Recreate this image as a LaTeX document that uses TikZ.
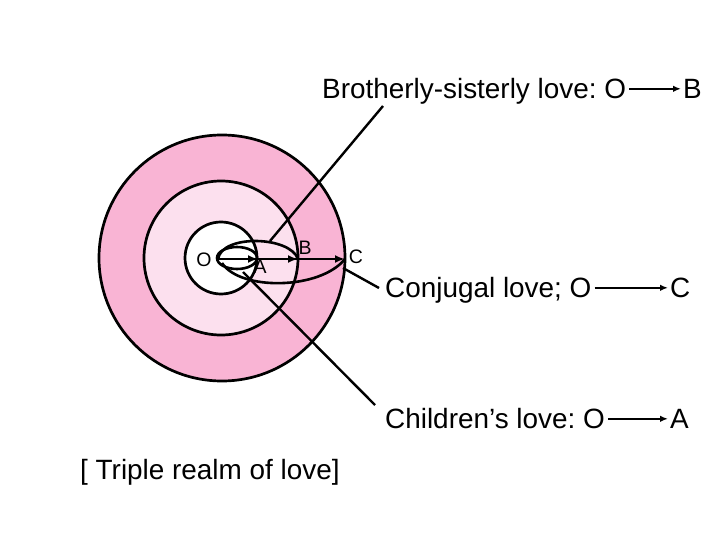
\documentclass[tikz,border=0pt]{standalone}
\usepackage{fontspec}
\setmainfont{Liberation Sans}
\usetikzlibrary{arrows.meta}
\definecolor{ringout}{RGB}{249,180,212}
\definecolor{ringmid}{RGB}{252,224,238}
\frenchspacing
\begin{document}
\frenchspacing
\begin{tikzpicture}[x=1pt,y=-1pt,
  ring/.style={circle,draw=black,line width=2.7pt,inner sep=0pt},
  loopline/.style={line width=2.6pt},
  pointer/.style={line width=2.4pt},
  harrow/.style={line width=2.6pt,-{Latex[length=10pt,width=8pt]}},
  rarrow/.style={line width=1.8pt,-{Latex[length=8pt,width=6.5pt]}},
  big/.style={font=\fontsize{27.9}{33}\selectfont,inner sep=0pt,text height=20pt,text depth=0pt,anchor=south west},
  small/.style={font=\fontsize{19.5}{22}\selectfont,inner sep=0pt}]
\useasboundingbox (0,0) rectangle (720,540);
\fill[white] (0,0) rectangle (720,540);
% rings
\node[ring,fill=ringout,minimum size=246pt] (outer) at (222,258) {};
\node[ring,fill=ringmid,minimum size=154pt] (middle) at (221,258) {};
\node[ring,fill=white,minimum size=72pt] (inner) at (221,258) {};
% points
\coordinate (O) at (218,259);
\coordinate (A) at (258,259);
\coordinate (B) at (298,259);
\coordinate (C) at (345,259);
% loops
\draw[loopline] (237,258) ellipse [x radius=20, y radius=11];
\draw[loopline] (O) .. controls (222,234) and (290,236) .. (B);
\draw[loopline] (222,263) .. controls (240,291) and (320,290) .. (C);
% horizontal arrows
\draw[harrow] (O) -- (C);
\draw[harrow] (O) -- (B);
\draw[harrow] (O) -- (A);
% labels at points
\node[small] (lO) at (204,260) {O};
\node[small] (lA) at (260,267) {A};
\node[small] (lB) at (305,248) {B};
\node[small] (lC) at (356,257) {C};
% right text
\node[big] (tB) at (322,99) {Brotherly-sisterly love: O};
\node[big] (rB) at (683,99) {B};
\node[big] (tC) at (385,298) {Conjugal love; O};
\node[big] (rC) at (670,298) {C};
\node[big] (tA) at (385,429) {Children’s love: O};
\node[big] (rA) at (670,429) {A};
\draw[rarrow] ([xshift=3pt]tB.east) -- ([xshift=-2pt]rB.west);
\draw[rarrow] ([xshift=3pt]tC.east) -- ([xshift=-2pt]rC.west);
\draw[rarrow] ([xshift=3pt]tA.east) -- ([xshift=-2pt]rA.west);
% pointer lines
\coordinate (pB) at (383,106);
\coordinate (qB) at (270,241);
\coordinate (pC) at (379,288);
\coordinate (qC) at (343,268);
\coordinate (pA) at (375,405);
\coordinate (qA) at (243,272);
\draw[pointer] (pB) -- (qB);
\draw[pointer] (pC) -- (qC);
\draw[pointer] (pA) -- (qA);
% caption
\node[big] (cap) at (80,480) {[ Triple realm of love]};
\end{tikzpicture}
\end{document}
